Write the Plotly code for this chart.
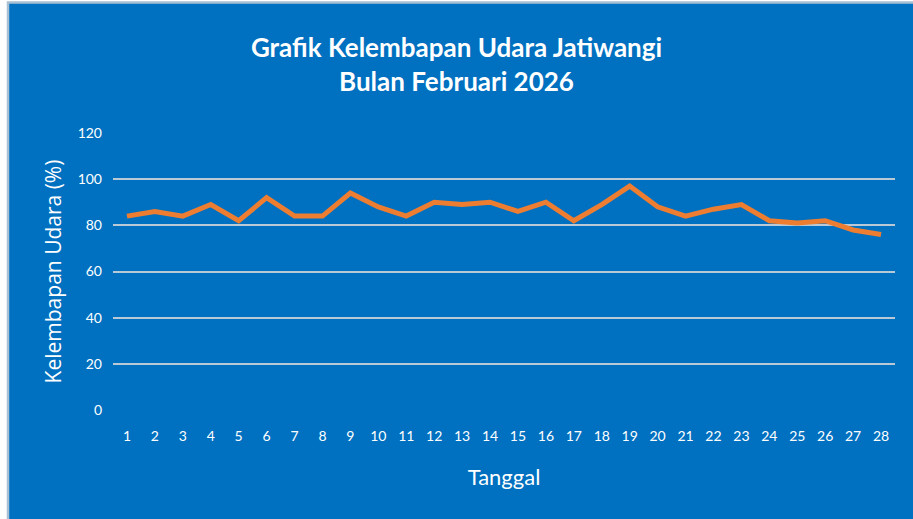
import plotly.graph_objects as go

# data
tanggal = [str(d) for d in range(1, 29)]
kelembapan = [84, 86, 84, 89, 82, 92, 84, 84, 94, 88, 84, 90, 89, 90,
              86, 90, 82, 89, 97, 88, 84, 87, 89, 82, 81, 82, 78, 76]
y_ticks = [0, 20, 40, 60, 80, 100, 120]

BLUE = "#0070C0"
ORANGE = "#ED7D31"
GRID = "rgba(217,217,217,0.85)"

W, H = 913, 519
ML, MR, MT, MB = 113, 18, 133, 109
pw, ph = W - ML - MR, H - MT - MB


def px_x(px):
    return (px - ML) / pw


def px_y(py):
    return (H - MB - py) / ph


fig = go.Figure()

fig.add_trace(
    go.Scatter(
        x=tanggal,
        y=kelembapan,
        mode="lines",
        line=dict(color=ORANGE, width=5),
        hoverinfo="x+y",
        showlegend=False,
    )
)

# blue chart panel with a thin grey frame on the left/top edge
fig.add_shape(
    type="rect",
    xref="paper", yref="paper",
    x0=px_x(8), x1=px_x(W + 5), y0=px_y(H + 5), y1=px_y(2.5),
    fillcolor=BLUE,
    line=dict(color="#A9BFD3", width=2.5),
    layer="below",
)

fig.update_layout(
    width=W,
    height=H,
    margin=dict(l=ML, r=MR, t=MT, b=MB),
    paper_bgcolor="white",
    plot_bgcolor=BLUE,
    font=dict(family="Lato", color="white"),
    title=dict(
        text="<b>Grafik Kelembapan Udara Jatiwangi</b><br><b>Bulan Februari 2026</b>",
        x=0.5,
        xref="container",
        xanchor="center",
        y=1 - 57 / H,
        yanchor="middle",
        font=dict(family="Lato", size=26, color="white"),
    ),
    xaxis=dict(
        type="category",
        range=[-0.5, 27.5],
        showgrid=False,
        zeroline=False,
        showline=False,
        ticks="",
        ticklabelstandoff=16,
        tickfont=dict(family="Lato", size=14, color="white"),
        title=dict(text="Tanggal", font=dict(family="Lato", size=22, color="white"), standoff=26),
    ),
    yaxis=dict(
        range=[0, 120],
        tickvals=y_ticks,
        showgrid=True,
        gridcolor=GRID,
        gridwidth=1.5,
        zeroline=False,
        showline=False,
        ticks="",
        ticklabelstandoff=10,
        tickfont=dict(family="Lato", size=14, color="white"),
        title=dict(
            text="Kelembapan Udara (%)",
            font=dict(family="Open Sans", size=21, color="white"),
            standoff=10,
        ),
    ),
)

# the page body has a default 8px margin; remove it so the figure fills the window
fig.write_html(
    "out.html",
    config={"displayModeBar": False},
    post_script="document.body.style.margin='0px';",
)
